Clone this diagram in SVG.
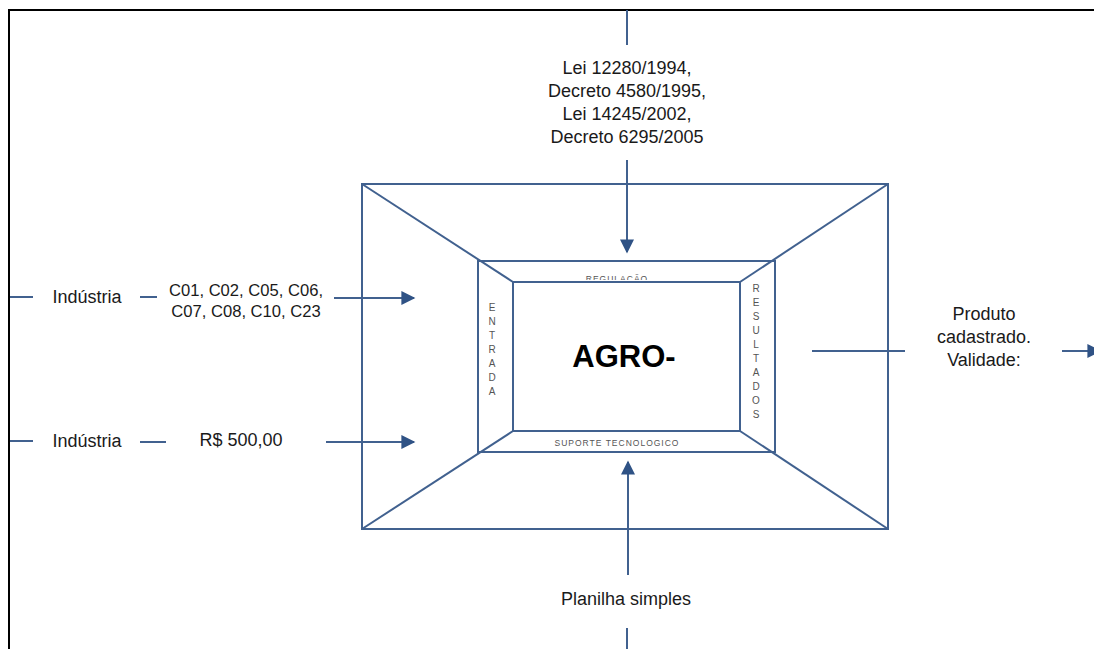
<svg xmlns="http://www.w3.org/2000/svg" width="1094" height="649" viewBox="0 0 1094 649">
<style>
.ln{stroke:#41618f;stroke-width:2;fill:none}
.box{stroke:#41618f;stroke-width:2;fill:none}
.t{font-family:"Liberation Sans",Arial,sans-serif;font-size:18px;fill:#1a1a1a;text-anchor:middle}
.c{font-size:16.6px}
.v{font-family:"Liberation Sans",Arial,sans-serif;font-size:10px;fill:#555555;text-anchor:middle}
.s{font-family:"Liberation Sans",Arial,sans-serif;font-size:8.5px;fill:#555555;text-anchor:middle;letter-spacing:1px}
</style>
<defs>
<marker id="ahb" viewBox="0 0 10 10" refX="9" refY="5" markerWidth="16" markerHeight="14" markerUnits="userSpaceOnUse" orient="auto">
<path d="M0,0 L10,5 L0,10 z" fill="#2f5285"/>
</marker>
<clipPath id="ctop"><rect x="478" y="261" width="297" height="19"/></clipPath>
<clipPath id="cbot"><rect x="478" y="439" width="297" height="13"/></clipPath>
</defs>
<rect width="1094" height="649" fill="#ffffff"/>
<g id="frame">
<line x1="8" y1="10" x2="1094" y2="10" stroke="#000" stroke-width="2"/>
<line x1="9" y1="9" x2="9" y2="649" stroke="#000" stroke-width="2"/>
</g>
<g id="funnel">
<rect class="box" x="362" y="184" width="526" height="345"/>
<rect class="box" x="478" y="261" width="297" height="191"/>
<rect class="box" x="513" y="282" width="227" height="149"/>
<line class="ln" x1="362" y1="184" x2="513" y2="282"/>
<line class="ln" x1="888" y1="184" x2="740" y2="282"/>
<line class="ln" x1="362" y1="529" x2="513" y2="431"/>
<line class="ln" x1="888" y1="529" x2="740" y2="431"/>
<text x="624" y="367" font-family="Liberation Sans,Arial,sans-serif" font-weight="bold" font-size="31" text-anchor="middle" fill="#000">AGRO-</text>
<g clip-path="url(#ctop)"><text class="s" x="617" y="282">REGULAÇÃO</text></g>
<g clip-path="url(#cbot)"><text class="s" x="617" y="446">SUPORTE TECNOLÓGICO</text></g>
<g id="entrada">
<text class="v" x="492" y="311">E</text>
<text class="v" x="492" y="325">N</text>
<text class="v" x="492" y="339">T</text>
<text class="v" x="492" y="353">R</text>
<text class="v" x="492" y="367">A</text>
<text class="v" x="492" y="381">D</text>
<text class="v" x="492" y="395">A</text>
</g>
<g id="resultados">
<text class="v" x="756" y="292">R</text>
<text class="v" x="756" y="306">E</text>
<text class="v" x="756" y="320">S</text>
<text class="v" x="756" y="334">U</text>
<text class="v" x="756" y="348">L</text>
<text class="v" x="756" y="362">T</text>
<text class="v" x="756" y="376">A</text>
<text class="v" x="756" y="390">D</text>
<text class="v" x="756" y="404">O</text>
<text class="v" x="756" y="418">S</text>
</g>
</g>
<g id="regulacao-input">
<text class="t" x="627" y="74">Lei 12280/1994,</text>
<text class="t" x="627" y="97">Decreto 4580/1995,</text>
<text class="t" x="627" y="120">Lei 14245/2002,</text>
<text class="t" x="627" y="143">Decreto 6295/2005</text>
</g>
<g id="entrada1">
<text class="t" x="87" y="303">Indústria</text>
<text class="t c" x="246" y="296">C01, C02, C05, C06,</text>
<text class="t c" x="246" y="317">C07, C08, C10, C23</text>
</g>
<g id="entrada2">
<text class="t" x="87" y="447">Indústria</text>
<text class="t" x="241" y="446">R$ 500,00</text>
</g>
<g id="resultado">
<text class="t" x="984" y="320">Produto</text>
<text class="t" x="984" y="343">cadastrado.</text>
<text class="t" x="984" y="366">Validade:</text>
</g>
<g id="suporte">
<text class="t" x="626" y="605">Planilha simples</text>
</g>
<g id="connectors">
<line class="ln" x1="627" y1="10" x2="627" y2="45"/>
<line class="ln" x1="627" y1="160" x2="627" y2="252" marker-end="url(#ahb)"/>
<line class="ln" x1="10" y1="297" x2="33" y2="297"/>
<line class="ln" x1="140" y1="297" x2="157" y2="297"/>
<line class="ln" x1="334" y1="298" x2="414" y2="298" marker-end="url(#ahb)"/>
<line class="ln" x1="10" y1="441" x2="33" y2="441"/>
<line class="ln" x1="140" y1="442" x2="166" y2="442"/>
<line class="ln" x1="326" y1="442" x2="414" y2="442" marker-end="url(#ahb)"/>
<line class="ln" x1="812" y1="351" x2="905" y2="351"/>
<line class="ln" x1="1062" y1="351" x2="1100" y2="351" marker-end="url(#ahb)"/>
<line class="ln" x1="628" y1="575" x2="628" y2="462" marker-end="url(#ahb)"/>
<line class="ln" x1="627" y1="628" x2="627" y2="649"/>
</g>
</svg>
